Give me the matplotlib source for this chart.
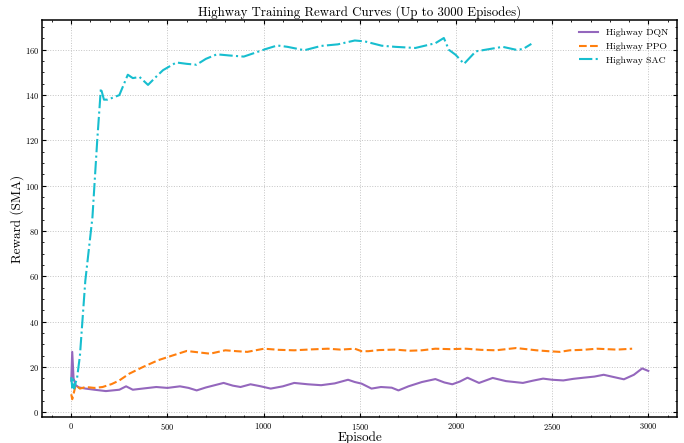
import matplotlib
matplotlib.use("Agg")
import matplotlib.pyplot as plt
from matplotlib.ticker import MultipleLocator

# ------------------------------------------------------------------------------
# Data (SMA reward)
# ------------------------------------------------------------------------------

dqn_ep = [0, 5, 12, 23, 40, 75, 120, 180, 250, 285, 320, 380, 442, 500, 565, 610,
          652, 700, 792, 840, 880, 932, 980, 1037, 1100, 1159, 1230, 1299, 1370,
          1439, 1474, 1509, 1561, 1610, 1666, 1701, 1753, 1823, 1893, 1940, 1981,
          2020, 2060, 2120, 2191, 2260, 2348, 2400, 2453, 2500, 2558, 2610, 2663,
          2720, 2768, 2820, 2873, 2925, 2968, 3000]
dqn_rew = [14.0, 26.7, 15.0, 12.0, 11.0, 10.5, 10.0, 9.4, 10.0, 11.5, 10.0, 10.6,
           11.2, 10.8, 11.5, 10.8, 9.7, 11.0, 13.0, 11.8, 11.2, 12.4, 11.6, 10.5,
           11.5, 13.0, 12.4, 12.0, 12.8, 14.4, 13.4, 12.7, 10.5, 11.2, 10.9, 9.7,
           11.5, 13.4, 14.7, 13.2, 12.4, 13.6, 15.3, 13.0, 15.2, 13.8, 13.0, 14.0,
           14.9, 14.4, 14.1, 14.8, 15.3, 15.8, 16.6, 15.6, 14.6, 16.6, 19.4, 18.3]

ppo_ep = [0, 5, 23, 45, 75, 120, 163, 210, 250, 302, 372, 451, 530, 600, 660, 722,
          801, 860, 915, 1002, 1080, 1159, 1250, 1334, 1400, 1474, 1509, 1544,
          1600, 1684, 1760, 1823, 1893, 1970, 2051, 2130, 2208, 2313, 2418, 2480,
          2540, 2592, 2660, 2733, 2837, 2916]
ppo_rew = [8.0, 5.8, 12.0, 10.5, 11.2, 10.8, 11.2, 12.5, 14.1, 17.1, 20.0, 23.0,
           25.2, 27.1, 26.5, 25.9, 27.4, 27.0, 26.7, 28.1, 27.6, 27.4, 27.8, 28.1,
           27.7, 28.1, 27.0, 27.0, 27.5, 27.7, 27.2, 27.4, 28.1, 27.9, 28.1, 27.6,
           27.4, 28.4, 27.4, 27.0, 26.7, 27.4, 27.6, 28.1, 27.7, 28.1]

sac_ep = [0, 5, 10, 15, 22, 30, 45, 73, 110, 135, 154, 170, 189, 220, 250, 294,
          320, 355, 399, 440, 477, 546, 600, 651, 700, 757, 820, 897, 949, 1010,
          1071, 1124, 1212, 1299, 1386, 1474, 1526, 1614, 1684, 1789, 1893, 1937,
          1963, 1998, 2042, 2103, 2173, 2243, 2313, 2348, 2392]
sac_rew = [15.5, 11.0, 14.5, 10.5, 13.0, 15.0, 25.0, 58.0, 86.0, 120.0, 143.0,
           138.0, 138.0, 139.0, 140.0, 149.0, 147.5, 148.0, 144.5, 148.0, 151.0,
           154.4, 153.8, 153.4, 156.0, 158.0, 157.5, 157.0, 158.5, 160.3, 161.9,
           161.3, 159.8, 161.7, 162.4, 164.1, 163.7, 161.8, 161.3, 160.8, 162.9,
           165.2, 160.0, 157.8, 153.8, 159.3, 160.3, 161.3, 160.0, 160.3, 162.6]

# ------------------------------------------------------------------------------
# Style
# ------------------------------------------------------------------------------

plt.rcParams["font.family"] = ["cmr10", "DejaVu Serif"]
plt.rcParams["mathtext.fontset"] = "cm"
plt.rcParams["axes.formatter.use_mathtext"] = True
plt.rcParams["xtick.direction"] = "in"
plt.rcParams["ytick.direction"] = "in"
plt.rcParams["xtick.top"] = True
plt.rcParams["ytick.right"] = True
plt.rcParams["xtick.minor.visible"] = True
plt.rcParams["ytick.minor.visible"] = True
plt.rcParams["xtick.major.size"] = 3
plt.rcParams["ytick.major.size"] = 3
plt.rcParams["xtick.minor.size"] = 1.5
plt.rcParams["ytick.minor.size"] = 1.5
plt.rcParams["xtick.major.pad"] = 2.5
plt.rcParams["ytick.major.pad"] = 2.5
plt.rcParams["axes.linewidth"] = 1.1

fig, ax = plt.subplots(figsize=(6.84, 4.43), dpi=100)
fig.subplots_adjust(left=0.062, right=0.99, bottom=0.058, top=0.955)

ax.plot(dqn_ep, dqn_rew, color="#9467bd", lw=1.5, label="Highway DQN")
ax.plot(ppo_ep, ppo_rew, color="#ff7f0e", lw=1.5, ls="--", label="Highway PPO")
ax.plot(sac_ep, sac_rew, color="#17becf", lw=1.5, ls="-.", label="Highway SAC")

ax.xaxis.set_major_locator(MultipleLocator(500))
ax.xaxis.set_minor_locator(MultipleLocator(100))
ax.yaxis.set_major_locator(MultipleLocator(20))
ax.yaxis.set_minor_locator(MultipleLocator(5))
ax.tick_params(labelsize=6)

ax.grid(True, which="major", linestyle=":", color="#c4c4c4", linewidth=0.7)

ax.set_title("Highway Training Reward Curves (Up to 3000 Episodes)", fontsize=9.3, pad=3)
ax.set_xlabel("Episode", fontsize=9.5, labelpad=0)
ax.set_ylabel("Reward (SMA)", fontsize=9.5, labelpad=0.5)

ax.legend(frameon=False, fontsize=7, loc="upper right")

fig.savefig("out.png", dpi=100)
